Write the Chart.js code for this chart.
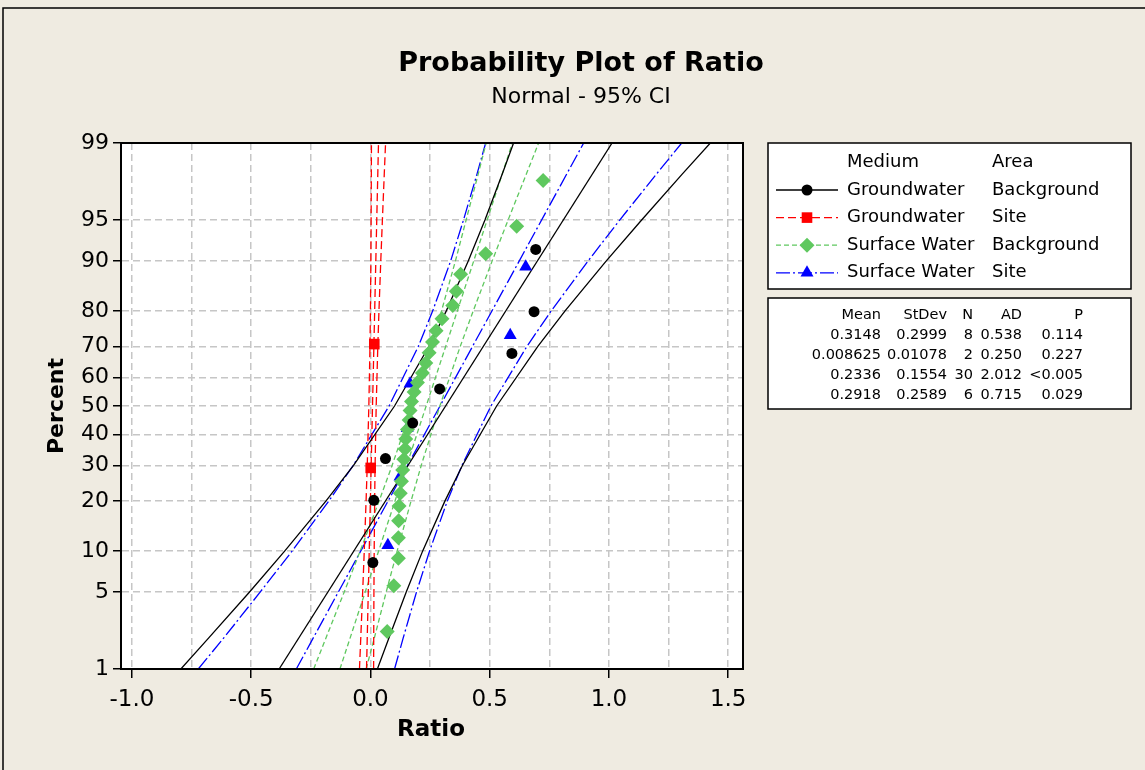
<!DOCTYPE html>
<html>
<head>
<meta charset="utf-8">
<script src="https://cdn.jsdelivr.net/npm/chart.js@4.4.1/dist/chart.umd.min.js"></script>
<style>
  html, body { margin: 0; padding: 0; background: #EFEBE1; }
  #wrap { width: 1145px; height: 770px; }
</style>
</head>
<body>
<div id="wrap"><canvas id="myChart" width="1145" height="770"></canvas></div>
<script>
// percent levels and tick labels
const Y_TICKS = [1, 5, 10, 20, 30, 40, 50, 60, 70, 80, 90, 95, 99];
const X_TICKS = [-1, -0.75, -0.5, -0.25, 0, 0.25, 0.5, 0.75, 1, 1.25, 1.5];
const CI_PCT = [1, 2, 5, 10, 20, 30, 50, 70, 80, 90, 95, 98, 99];
const FIT_PCT = [1, 99];

// Groundwater / Background
const GWB_PCT = [8.3, 20.2, 32.1, 44.0, 56.0, 67.9, 79.8, 91.7];
const GWB_X = [0.010, 0.014, 0.063, 0.177, 0.290, 0.593, 0.686, 0.693];
const GWB_FIT = [-0.383, 1.013];
const GWB_LO = [-0.795, -0.679, -0.507, -0.359, -0.187, -0.071, 0.101, 0.244, 0.318, 0.410, 0.480, 0.553, 0.600];
const GWB_HI = [0.029, 0.077, 0.150, 0.219, 0.312, 0.386, 0.529, 0.701, 0.816, 0.988, 1.137, 1.308, 1.425];

// Groundwater / Site
const GWS_PCT = [29.2, 70.8];
const GWS_X = [0.001, 0.016];
const GWS_FIT = [-0.0165, 0.0337];
const GWS_LO = [-0.0461, -0.0407, -0.0327, -0.0260, -0.0184, -0.0135, -0.0068, -0.0021, -0.0002, 0.0017, 0.0027, 0.0036, 0.0041];
const GWS_HI = [0.0132, 0.0136, 0.0145, 0.0156, 0.0175, 0.0194, 0.0240, 0.0307, 0.0356, 0.0432, 0.0500, 0.0579, 0.0633];

// Surface Water / Background
const SWB_PCT = [2.3, 5.6, 8.9, 12.2, 15.5, 18.8, 22.0, 25.3, 28.6, 31.9, 35.2, 38.5, 41.8, 45.1, 48.4,
                 51.6, 54.9, 58.2, 61.5, 64.8, 68.1, 71.4, 74.7, 78.0, 81.3, 84.5, 87.8, 91.1, 94.4, 97.7];
const SWB_X = [0.070, 0.098, 0.117, 0.117, 0.118, 0.120, 0.125, 0.130, 0.135, 0.140, 0.145, 0.148, 0.155, 0.162, 0.166,
               0.172, 0.183, 0.197, 0.218, 0.232, 0.246, 0.260, 0.275, 0.300, 0.345, 0.360, 0.378, 0.483, 0.613, 0.724];
const SWB_FIT = [-0.128, 0.595];
const SWB_LO = [-0.238, -0.187, -0.110, -0.043, 0.036, 0.091, 0.176, 0.254, 0.298, 0.356, 0.401, 0.452, 0.485];
const SWB_HI = [-0.018, 0.016, 0.066, 0.112, 0.170, 0.213, 0.291, 0.376, 0.431, 0.510, 0.577, 0.654, 0.705];

// Surface Water / Site
const SWS_PCT = [10.9, 26.6, 42.2, 57.8, 73.4, 89.1];
const SWS_X = [0.073, 0.124, 0.154, 0.166, 0.586, 0.651];
const SWS_FIT = [-0.311, 0.894];
const SWS_LO = [-0.722, -0.616, -0.462, -0.328, -0.175, -0.072, 0.078, 0.200, 0.261, 0.336, 0.390, 0.447, 0.483];
const SWS_HI = [0.101, 0.137, 0.193, 0.248, 0.322, 0.384, 0.505, 0.655, 0.758, 0.912, 1.045, 1.200, 1.305];

const STATS_HEAD = ['Mean', 'StDev', 'N', 'AD', 'P'];
const STATS_ROWS = [
    ['0.3148', '0.2999', '8', '0.538', '0.114'],
    ['0.008625', '0.01078', '2', '0.250', '0.227'],
    ['0.2336', '0.1554', '30', '2.012', '<0.005'],
    ['0.2918', '0.2589', '6', '0.715', '0.029'],
];

const FONT = '"DejaVu Sans", Verdana, sans-serif';
const GREEN = '#5FC85F';

const groups = [
    { medium: 'Groundwater', area: 'Background', color: '#000000', dash: [], style: 'circle', r: 5.5,
      pct: GWB_PCT, x: GWB_X, fit: GWB_FIT, lo: GWB_LO, hi: GWB_HI },
    { medium: 'Groundwater', area: 'Site', color: '#FF0000', dash: [8, 4], style: 'rect', r: 7.5,
      pct: GWS_PCT, x: GWS_X, fit: GWS_FIT, lo: GWS_LO, hi: GWS_HI },
    { medium: 'Surface Water', area: 'Background', color: GREEN, dash: [5, 3], style: 'rectRot', r: 7.5,
      pct: SWB_PCT, x: SWB_X, fit: SWB_FIT, lo: SWB_LO, hi: SWB_HI },
    { medium: 'Surface Water', area: 'Site', color: '#0000FF', dash: [14, 3, 2, 3], style: 'triangle', r: 7.5,
      pct: SWS_PCT, x: SWS_X, fit: SWS_FIT, lo: SWS_LO, hi: SWS_HI },
];

// inverse of the standard normal cdf (Acklam)
function probit(p) {
    const a = [-39.69683028665376, 220.9460984245205, -275.9285104469687, 138.3577518672690, -30.66479806614716, 2.506628274631000];
    const b = [-54.47609879822406, 161.5858368580409, -155.6989798598866, 66.80131188771972, -13.28068155288572];
    const c = [-0.007784894002430293, -0.3223964580411365, -2.400758277161838, -2.549732539343734, 4.374664141464968, 2.938163982698783];
    const d = [0.007784695709041462, 0.3224671290700398, 2.445134137142996, 3.754408661907416];
    const pl = 0.02425;
    let q, r;
    if (p < pl) {
        q = Math.sqrt(-2 * Math.log(p));
        return (((((c[0]*q+c[1])*q+c[2])*q+c[3])*q+c[4])*q+c[5]) / ((((d[0]*q+d[1])*q+d[2])*q+d[3])*q+1);
    }
    if (p > 1 - pl) {
        q = Math.sqrt(-2 * Math.log(1 - p));
        return -(((((c[0]*q+c[1])*q+c[2])*q+c[3])*q+c[4])*q+c[5]) / ((((d[0]*q+d[1])*q+d[2])*q+d[3])*q+1);
    }
    q = p - 0.5; r = q * q;
    return (((((a[0]*r+a[1])*r+a[2])*r+a[3])*r+a[4])*r+a[5])*q / (((((b[0]*r+b[1])*r+b[2])*r+b[3])*r+b[4])*r+1);
}

// normal probability axis (values in percent)
class ProbabilityScale extends Chart.Scale {
    determineDataLimits() {
        this.min = this.options.min;
        this.max = this.options.max;
    }
    buildTicks() {
        return Y_TICKS.map(v => ({ value: v }));
    }
    configure() {
        super.configure();
        this._zMin = probit(this.min / 100);
        this._zMax = probit(this.max / 100);
    }
    getPixelForValue(v) {
        const z = probit(v / 100);
        return this.getPixelForDecimal((z - this._zMin) / (this._zMax - this._zMin));
    }
    getValueForPixel(px) {
        const d = this.getDecimalForPixel(px);
        const z = this._zMin + d * (this._zMax - this._zMin);
        return 50 * (1 + Math.tanh(z * 0.7978845608 * (1 + 0.044715 * z * z)));
    }
    getLabelForValue(v) { return String(v); }
}
ProbabilityScale.id = 'probability';
ProbabilityScale.defaults = {};
Chart.register(ProbabilityScale);

const pts = (xs, ps) => xs.map((x, i) => ({ x: x, y: ps[i] }));

const datasets = [];
groups.forEach(g => {
    datasets.push({
        data: pts(g.x, g.pct), showLine: false, order: 0,
        pointStyle: g.style, pointRadius: g.r, pointHoverRadius: g.r,
        pointBackgroundColor: g.color, pointBorderColor: g.color, pointBorderWidth: 0,
    });
});
groups.forEach(g => {
    [pts(g.lo, CI_PCT), pts(g.fit, FIT_PCT), pts(g.hi, CI_PCT)].forEach(d => {
        datasets.push({
            data: d, order: 1, borderColor: g.color, borderWidth: 1.3,
            borderDash: g.dash, pointRadius: 0, fill: false, tension: 0,
        });
    });
});

function marker(ctx, style, x, y, r, color) {
    ctx.fillStyle = color;
    ctx.beginPath();
    if (style === 'circle') ctx.arc(x, y, r, 0, Math.PI * 2);
    else if (style === 'rect') { const s = r * Math.SQRT1_2; ctx.rect(x - s, y - s, 2 * s, 2 * s); }
    else if (style === 'rectRot') { ctx.moveTo(x, y - r); ctx.lineTo(x + r, y); ctx.lineTo(x, y + r); ctx.lineTo(x - r, y); ctx.closePath(); }
    else { ctx.moveTo(x, y - r); ctx.lineTo(x + r * 0.866, y + r * 0.5); ctx.lineTo(x - r * 0.866, y + r * 0.5); ctx.closePath(); }
    ctx.fill();
}

const decor = {
    id: 'decor',
    beforeDraw(chart) {
        const { ctx, chartArea: a } = chart;
        ctx.save();
        ctx.fillStyle = '#EFEBE1';
        ctx.fillRect(0, 0, chart.width, chart.height);
        ctx.fillStyle = '#FFFFFF';
        ctx.fillRect(a.left, a.top, a.right - a.left, a.bottom - a.top);
        ctx.restore();
    },
    afterDraw(chart) {
        const { ctx, chartArea: a } = chart;
        ctx.save();
        // plot frame
        ctx.strokeStyle = '#000';
        ctx.lineWidth = 2;
        ctx.strokeRect(a.left, a.top, a.right - a.left, a.bottom - a.top);
        // outer frame
        ctx.lineWidth = 1.5;
        ctx.beginPath();
        ctx.moveTo(3, chart.height); ctx.lineTo(3, 8); ctx.lineTo(chart.width, 8);
        ctx.stroke();

        // titles
        ctx.fillStyle = '#000';
        ctx.textAlign = 'center';
        ctx.textBaseline = 'middle';
        ctx.font = 'bold 27px ' + FONT;
        ctx.fillText('Probability Plot of Ratio', 581, 64);
        ctx.font = '22px ' + FONT;
        ctx.fillText('Normal - 95% CI', 581, 97);
        ctx.font = 'bold 23px ' + FONT;
        ctx.fillText('Ratio', 431, 730);
        ctx.save();
        ctx.translate(57, 406);
        ctx.rotate(-Math.PI / 2);
        ctx.font = 'bold 22px ' + FONT;
        ctx.fillText('Percent', 0, 0);
        ctx.restore();

        // legend box
        ctx.fillStyle = '#fff';
        ctx.fillRect(768, 143, 363, 146);
        ctx.strokeStyle = '#000';
        ctx.lineWidth = 1.5;
        ctx.strokeRect(768, 143, 363, 146);
        ctx.fillStyle = '#000';
        ctx.textAlign = 'left';
        ctx.font = '18px ' + FONT;
        ctx.fillText('Medium', 847, 162);
        ctx.fillText('Area', 992, 162);
        groups.forEach((g, i) => {
            const y = 190 + i * 27.6;
            ctx.strokeStyle = g.color;
            ctx.lineWidth = 1.3;
            ctx.setLineDash(g.dash);
            ctx.beginPath();
            ctx.moveTo(776, y); ctx.lineTo(838, y);
            ctx.stroke();
            ctx.setLineDash([]);
            marker(ctx, g.style, 807, y, g.r, g.color);
            ctx.fillStyle = '#000';
            ctx.fillText(g.medium, 847, y);
            ctx.fillText(g.area, 992, y);
        });

        // statistics box
        ctx.fillStyle = '#fff';
        ctx.fillRect(768, 298, 363, 111);
        ctx.strokeStyle = '#000';
        ctx.lineWidth = 1.5;
        ctx.strokeRect(768, 298, 363, 111);
        ctx.fillStyle = '#000';
        ctx.textAlign = 'right';
        ctx.font = '14.5px ' + FONT;
        const colRight = [881, 947, 973, 1022, 1083];
        STATS_HEAD.forEach((h, j) => ctx.fillText(h, colRight[j], 315));
        STATS_ROWS.forEach((row, i) => {
            row.forEach((v, j) => ctx.fillText(v, colRight[j], 335 + i * 20));
        });
        ctx.restore();
    }
};

const config = {
    type: 'line',
    data: { datasets: datasets },
    options: {
        responsive: false,
        animation: false,
        layout: { padding: { top: 143, right: 402, left: 0, bottom: 0 } },
        plugins: {
            legend: { display: false },
            tooltip: { enabled: false },
        },
        scales: {
            x: {
                type: 'linear',
                min: -1.046,
                max: 1.562,
                afterBuildTicks: s => { s.ticks = X_TICKS.map(v => ({ value: v })); },
                afterFit: s => { s.height = 101; },
                grid: {
                    color: '#C6C6C6', lineWidth: 1.5, tickLength: 9,
                    tickColor: c => (Math.abs(c.tick.value * 2 - Math.round(c.tick.value * 2)) < 1e-6 ? '#000' : 'rgba(0,0,0,0)'),
                    tickWidth: 1.5,
                },
                border: { color: '#000', width: 2, dash: [7, 4] },
                ticks: {
                    autoSkip: false, maxRotation: 0, padding: 8, color: '#000',
                    font: { family: FONT, size: 23 },
                    callback: v => (Math.abs(v * 2 - Math.round(v * 2)) < 1e-6 ? v.toFixed(1) : ''),
                },
            },
            y: {
                type: 'probability',
                position: 'left',
                min: 1,
                max: 99,
                afterFit: s => { s.width = 121; },
                grid: { color: '#C6C6C6', lineWidth: 1.5, tickLength: 8, tickColor: '#000', tickWidth: 1.5 },
                border: { color: '#000', width: 2, dash: [7, 4] },
                ticks: {
                    autoSkip: false, padding: 4, color: '#000',
                    font: { family: FONT, size: 22 },
                    callback: v => String(v),
                },
            },
        },
    },
    plugins: [decor],
};

const ctx = document.getElementById('myChart').getContext('2d');
const myChart = new Chart(ctx, config);
</script>
</body>
</html>
